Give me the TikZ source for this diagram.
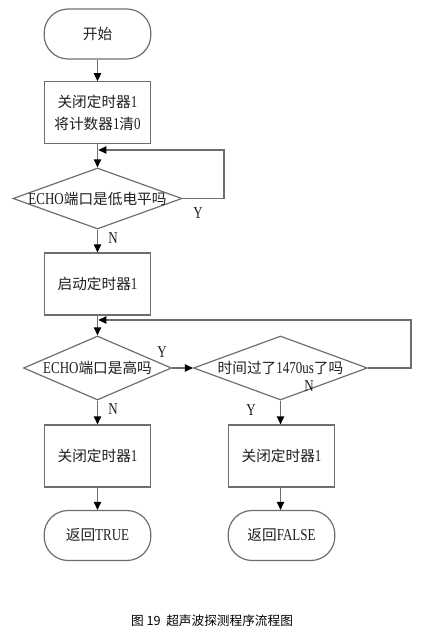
\documentclass[tikz,border=0pt]{standalone}
\usepackage{fontspec}
\usetikzlibrary{shapes.geometric,arrows.meta}
\newfontfamily\cjk{Noto Sans CJK SC}
\setmainfont{Liberation Serif}[FakeStretch=0.78]
\newcommand{\C}[1]{{\cjk\fontsize{11pt}{16.5pt}\selectfont #1}}
\definecolor{linecol}{RGB}{110,110,110}
\definecolor{txtcol}{RGB}{30,30,30}
\begin{document}
\begin{tikzpicture}[x=0.75pt,y=-0.75pt,
  every node/.style={text=txtcol,font=\fontsize{12.5pt}{16.5pt}\selectfont},
  term/.style={draw=linecol,line width=0.9pt,rounded corners=18pt,minimum width=80pt,minimum height=37.5pt,inner sep=0pt},
  proc/.style={draw=linecol,line width=0.9pt,minimum width=80pt,minimum height=46.5pt,inner sep=0pt,align=center},
  dec/.style={draw=linecol,line width=0.9pt,shape=diamond,inner sep=0pt},
  conn/.style={draw=linecol,line width=0.9pt},
  arr/.style={conn,-{Triangle[length=6pt,width=5.5pt,black]}},
  yn/.style={font=\fontsize{12.5pt}{13pt}\selectfont}]
\useasboundingbox (0,0) rectangle (426,635);

\node[term] (start) at (97.5,34) {\C{开始}};
\node[proc,minimum height=46pt] (b1) at (97.5,112.5) {\C{关闭定时器}1\\\C{将计数器}1\C{清}0};
\node[dec,minimum width=126.75pt,minimum height=45.75pt,label={[text=txtcol]center:ECHO\C{端口是低电平吗}}] (d1) at (97.5,198.5) {};
\node[proc] (b2) at (97.5,284) {\C{启动定时器}1};
\node[dec,minimum width=111pt,minimum height=48pt,label={[text=txtcol]center:ECHO\C{端口是高吗}}] (d2) at (97.5,368) {};
\node[dec,minimum width=130.5pt,minimum height=48pt,label={[text=txtcol]center:\C{时间过了}1470us\C{了吗}}] (d3) at (280.5,368) {};
\node[proc] (b3) at (97.5,456) {\C{关闭定时器}1};
\node[proc] (b4) at (281.5,456) {\C{关闭定时器}1};
\node[term] (e1) at (97.5,535.5) {\C{返回}TRUE};
\node[term] (e2) at (281.5,535.5) {\C{返回}FALSE};

\coordinate (m1) at (97.5,150);
\coordinate (r1) at (224,150);
\coordinate (m2) at (97.5,320);
\coordinate (r2) at (411,320);

\draw[arr] (start) -- (b1);
\draw[arr] (b1) -- (d1.north);
\draw[arr] (d1.east) -| (r1) -- ([xshift=0.6pt]m1);
\draw[arr] (d1.south) -- (b2);
\draw[arr] (b2) -- (d2.north);
\draw[arr] (d2.east) -- (d3.west);
\draw[arr] (d3.east) -| (r2) -- ([xshift=0.6pt]m2);
\draw[arr] (d2.south) -- (b3);
\draw[arr] (d3.south) -- (b4.north -| d3.south);
\draw[arr] (b3) -- (e1);
\draw[arr] (b4.south -| d3.south) -- (e2.north -| d3.south);

\node[yn] (y1) at (198,213) {Y};
\node[yn] (n1) at (113,238) {N};
\node[yn] (y2) at (162,352) {Y};
\node[yn] (n2) at (113,409) {N};
\node[yn] (n3) at (309,386) {N};
\node[yn] (y3) at (251,410) {Y};

\node[font=\cjk\fontsize{9.5pt}{11pt}\selectfont,text=black] (cap) at (212,621) {图 19\ \ 超声波探测程序流程图};
\end{tikzpicture}
\end{document}
